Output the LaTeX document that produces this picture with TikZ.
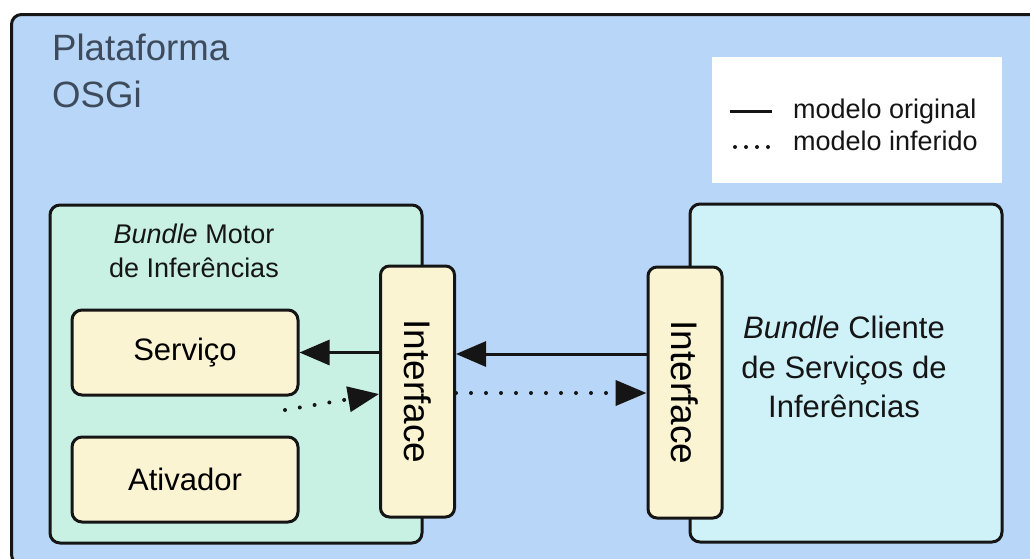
\documentclass[tikz,border=0pt]{standalone}
\usepackage{fontspec}
\setmainfont{Liberation Sans}
\usetikzlibrary{arrows.meta}
\definecolor{outerblue}{HTML}{B8D6F7}
\definecolor{mint}{HTML}{C8F1E3}
\definecolor{cyanlight}{HTML}{CFF2F9}
\definecolor{cream}{HTML}{FBF4D2}
\definecolor{titlecol}{HTML}{3D4B5C}
\definecolor{edge}{HTML}{151515}
\begin{document}
\begin{tikzpicture}[x=1pt,y=-1pt,
  outerbox/.style={draw=edge, line width=3pt, rounded corners=10pt, fill=outerblue, inner sep=0pt, anchor=north west},
  bundlebox/.style={draw=edge, line width=3pt, rounded corners=10pt, inner sep=0pt},
  compbox/.style={draw=edge, line width=3pt, rounded corners=10pt, fill=cream, inner sep=0pt, minimum width=226pt, minimum height=85pt, font=\fontsize{31}{37}\selectfont},
  ifbox/.style={draw=edge, line width=3pt, rounded corners=9pt, fill=cream, inner sep=0pt, minimum width=74pt, minimum height=251pt},
  iftext/.style={rotate=-90, inner sep=0pt, font=\fontsize{37}{44}\selectfont},
  titletext/.style={anchor=base west, inner sep=0pt, text=titlecol, font=\fontsize{36.6}{47}\selectfont},
  labtext/.style={anchor=base, inner sep=0pt, text=edge},
  legtext/.style={anchor=base west, inner sep=0pt, text=edge, font=\fontsize{27}{32}\selectfont},
  solidarr/.style={draw=edge, line width=3pt, -{Triangle[length=30pt,width=25pt]}},
  dotarr/.style={draw=edge, line width=4pt, dash pattern=on 0pt off 15pt, line cap=round, -{Triangle[length=31pt,width=25pt]}}
]
\useasboundingbox (0,0) rectangle (1030,558);
\clip (0,0) rectangle (1030,558);
\fill[white] (0,0) rectangle (1030,558);

% platform
\node[outerbox, minimum width=1035pt, minimum height=550pt] (plat) at (10,13) {};
\node[titletext] (t1) at (52,60) {Plataforma};
\node[titletext] (t2) at (52,107) {OSGi};

% legend
\node[fill=white, inner sep=0pt, minimum width=290pt, minimum height=126pt] (leg) at (857,120) {};
\draw[edge, line width=3pt] (730,111) -- (772,111);
\draw[edge, line width=4pt, dash pattern=on 0pt off 11pt, line cap=round] (735,147) -- (770,147);
\node[legtext] (l1) at (793,118) {modelo original};
\node[legtext] (l2) at (793,150) {modelo inferido};

% bundles
\node[bundlebox, fill=mint, minimum width=372pt, minimum height=338pt] (bmi) at (236,374) {};
\node[bundlebox, fill=cyanlight, minimum width=312pt, minimum height=338pt] (bcs) at (846,373) {};

\node[labtext, font=\fontsize{27}{34}\selectfont] (bm1) at (194,243) {\textit{Bundle} Motor};
\node[labtext, font=\fontsize{27}{34}\selectfont] (bm2) at (194,277) {de Inferências};

\node[labtext, font=\fontsize{31}{40}\selectfont] (bc1) at (844,338) {\textit{Bundle} Cliente};
\node[labtext, font=\fontsize{31}{40}\selectfont] (bc2) at (844,378) {de Serviços de};
\node[labtext, font=\fontsize{31}{40}\selectfont] (bc3) at (844,417) {Inferências};

% components
\node[compbox] (serv) at (185,352.5) {Serviço};
\node[compbox] (ativ) at (185,479.5) {Ativador};

% interfaces
\node[ifbox] (ifL) at (417.5,391.5) {};
\node[iftext] (ifLt) at (ifL.center) {Interface};
\node[ifbox] (ifR) at (685,392.5) {};
\node[iftext] (ifRt) at (ifR.center) {Interface};

% connectors
\draw[solidarr] ([yshift=39pt]ifL.west) -- (serv.east);
\draw[solidarr] ([yshift=38.5pt]ifR.west) -- ([yshift=37.5pt]ifL.east);
\coordinate (d0) at (285,410);
\draw[dotarr] (d0) -- ([yshift=-2.5pt]ifL.west);
\draw[dotarr] ([yshift=-1.5pt]ifL.east) -- ([yshift=-0.5pt]ifR.west);
\end{tikzpicture}
\end{document}
